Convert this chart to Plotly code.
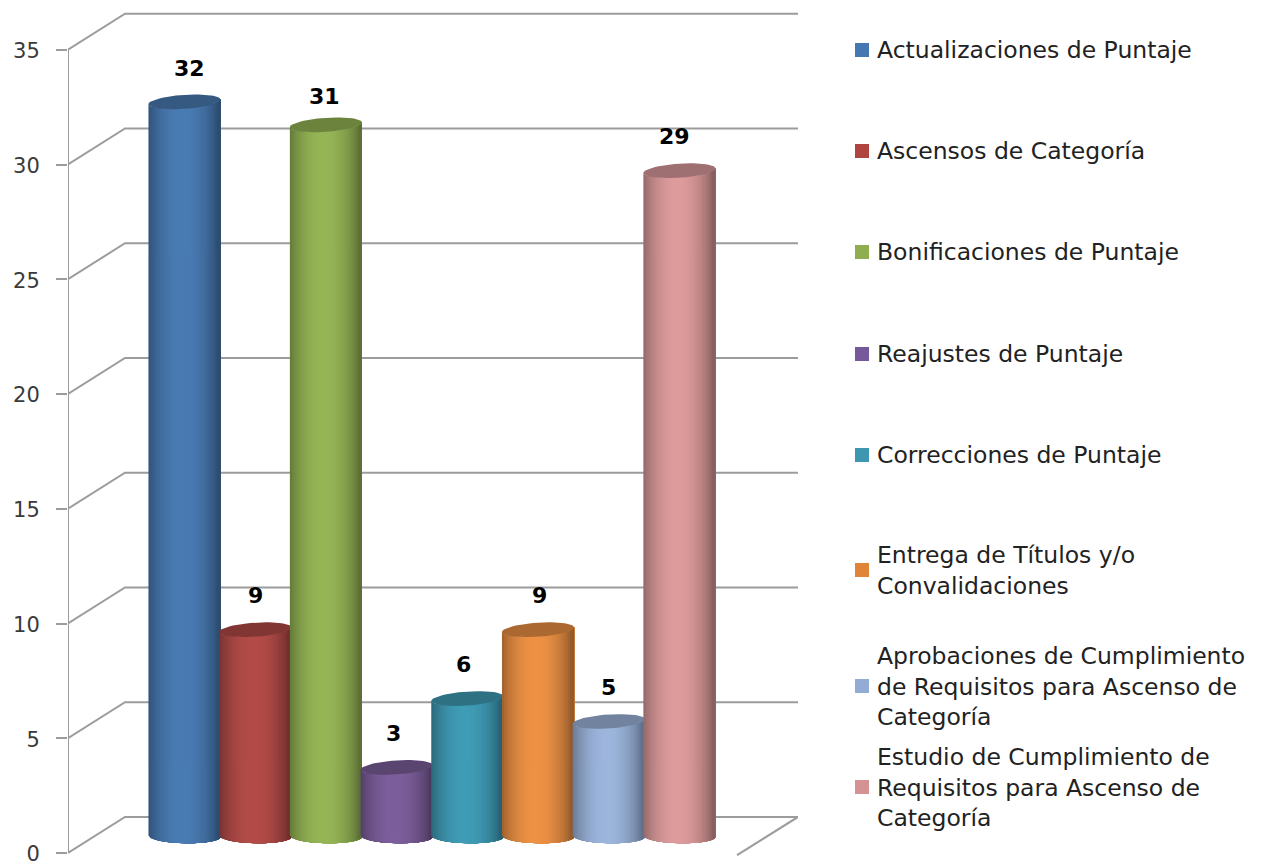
import numpy as np
import plotly.graph_objects as go

categories = ["Actualizaciones de Puntaje", "Ascensos de Categoría", "Bonificaciones de Puntaje",
              "Reajustes de Puntaje", "Correcciones de Puntaje", "Entrega de Títulos y/o Convalidaciones",
              "Aprobaciones de Cumplimiento de Requisitos para Ascenso de Categoría",
              "Estudio de Cumplimiento de Requisitos para Ascenso de Categoría"]
legend_labels = ["Actualizaciones de Puntaje", "Ascensos de Categoría", "Bonificaciones de Puntaje",
                 "Reajustes de Puntaje", "Correcciones de Puntaje", "Entrega de Títulos y/o<br>Convalidaciones",
                 "Aprobaciones de Cumplimiento<br>de Requisitos para Ascenso de<br>Categoría",
                 "Estudio de Cumplimiento de<br>Requisitos para Ascenso de<br>Categoría"]
values = [32, 9, 31, 3, 6, 9, 5, 29]
colors = ["#4A7CB4", "#B44C49", "#96B656", "#7D5F9C", "#409DB7", "#EE9245", "#9DB6DD", "#DE9C9D"]
legend_colors = ["#4578B0", "#B0443F", "#8FAE4F", "#76599A", "#3F96B0", "#E0843A", "#93ACD6", "#D59294"]
y_ticks = [0, 5, 10, 15, 20, 25, 30, 35]
label_xshift = [5, 0, -1, -3, -4, 1, 0, -5]
label_yshift = [0, 0, -5, 0, 0, 0, 0, 0]
legend_y_px = [50, 151, 252, 354, 455, 570, 686, 787]

W, H = 1261, 883           # the page window shows the top 863 px; the rest keeps the "0" label inside the figure
GRID = "#9C9C9C"
x_pos = np.arange(1, 9)
DX, DY = 0.806, 1.57       # depth of the 3D wall in axis units
X_LEFT = -0.648
BASE = 0.73                # mid-depth offset of the cylinders
HALF_W, ELL_H, TILT = 0.51, 0.305, 0.10
STRIPS = 36
Y_MIN, Y_MAX = -0.4, 36.95


def shade(hex_color, f):
    r, g, b = (int(hex_color[i:i + 2], 16) for i in (1, 3, 5))
    return f"rgb({int(r * f)},{int(g * f)},{int(b * f)})"


def body_factor(t):
    return 0.62 + 0.38 * np.clip(1 - ((t + 0.06) / 0.98) ** 2, 0, 1) ** 0.85


fig = go.Figure()

# back wall, side wall and axis line
gx, gy = [], []
for v in y_ticks:
    gx += [X_LEFT, X_LEFT + DX, 9.677, None]
    gy += [v, v + DY, v + DY, None]
gx += [X_LEFT, X_LEFT, None, 8.815, 9.677]
gy += [0, 35, None, -0.09, DY]
fig.add_trace(go.Scatter(x=gx, y=gy, mode="lines", line=dict(color=GRID, width=2),
                         hoverinfo="skip", showlegend=False, cliponaxis=False))

# cylinders: strips painted left to right, each reaching to the right edge
edges = np.linspace(-1, 1, STRIPS + 1)
for xc, val, col, name in zip(x_pos, values, colors, categories):
    top_c = val + BASE
    for a, b in zip(edges[:-1], edges[1:]):
        ts = np.linspace(a, 1, 40)
        arc = np.sqrt(np.clip(1 - ts ** 2, 0, 1))
        lo = BASE - ELL_H * arc - TILT * 0.3 * ts
        hi = top_c - ELL_H * arc + TILT * ts
        px = np.r_[xc + ts * HALF_W, xc + ts[::-1] * HALF_W]
        py = np.r_[lo, hi[::-1]]
        fig.add_trace(go.Scatter(x=px, y=py, mode="lines", fill="toself",
                                 fillcolor=shade(col, body_factor((a + b) / 2)),
                                 line=dict(width=0), name=name, hoverinfo="name", showlegend=False))
    th = np.linspace(0, 2 * np.pi, 60)
    fig.add_trace(go.Scatter(x=xc + HALF_W * np.cos(th),
                             y=top_c + ELL_H * np.sin(th) + TILT * np.cos(th),
                             mode="lines", fill="toself", fillcolor=shade(col, 0.72),
                             line=dict(width=0), name=name, hoverinfo="name", showlegend=False))

# value labels
annotations = [dict(x=xc, y=v + 2.2, xref="x", yref="y", text=f"<b>{v}</b>", showarrow=False,
                    xshift=s, yshift=t,
                    font=dict(family="DejaVu Sans", size=22, color="#000000"), xanchor="center", yanchor="middle")
               for xc, v, s, t in zip(x_pos, values, label_xshift, label_yshift)]

# key on a pixel-scaled companion axis pair
fig.add_trace(go.Scatter(x=[862] * 8, y=legend_y_px, xaxis="x2", yaxis="y2", mode="markers",
                         marker=dict(symbol="square", size=14, color=legend_colors, line=dict(width=0)),
                         hoverinfo="skip", showlegend=False))
for lab, yp in zip(legend_labels, legend_y_px):
    annotations.append(dict(x=875, y=yp, xref="x2", yref="y2", text=lab, showarrow=False, align="left",
                            xanchor="left", yanchor="middle",
                            font=dict(family="DejaVu Sans", size=23.5, color="#222222")))

fig.update_layout(
    width=W, height=H, autosize=False,
    margin=dict(l=0, r=0, t=0, b=0, autoexpand=False),
    paper_bgcolor="white", plot_bgcolor="rgba(0,0,0,0)", showlegend=False,
    annotations=annotations,
    xaxis=dict(domain=[68 / W, 798 / W], range=[X_LEFT, 9.677], visible=False, anchor="y"),
    yaxis=dict(domain=[(H - 862.18) / H, (H - 5) / H], range=[Y_MIN, Y_MAX], tickvals=y_ticks, ticks="outside",
               ticklen=11, tickcolor=GRID, tickwidth=2, showgrid=False, zeroline=False, showline=False, anchor="x",
               ticklabelstandoff=12, ticklabelshift=1,
               tickfont=dict(family="DejaVu Sans", size=21, color="#3A3A3A")),
    xaxis2=dict(domain=[0, 1], range=[0, W], visible=False, anchor="y2"),
    yaxis2=dict(domain=[0, 1], range=[H, 0], visible=False, anchor="x2"),
)
fig.write_html("out.html", config=dict(displayModeBar=False),
               post_script="document.body.style.margin='0';document.body.style.overflow='hidden';")
